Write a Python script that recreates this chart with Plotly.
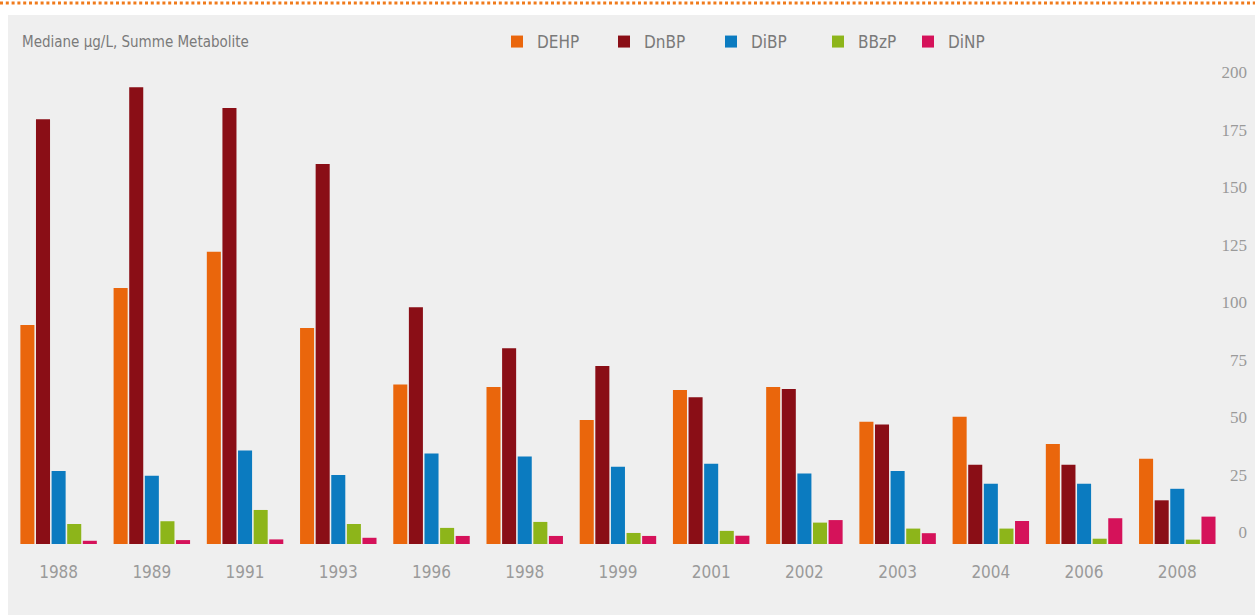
import plotly.graph_objects as go

years = ["1988", "1989", "1991", "1993", "1996", "1998", "1999",
         "2001", "2002", "2003", "2004", "2006", "2008"]

dehp = [95.2, 111.3, 127.1, 93.9, 69.4, 68.3, 53.9, 67.0, 68.3, 53.2, 55.3, 43.5, 37.1]
dnbp = [184.7, 198.6, 189.6, 165.2, 102.9, 85.1, 77.4, 63.8, 67.4, 52.0, 34.5, 34.5, 19.0]
dibp = [31.7, 29.7, 40.6, 30.0, 39.3, 38.0, 33.6, 34.9, 30.7, 31.7, 26.2, 26.2, 24.0]
bbzp = [8.7, 9.9, 14.8, 8.7, 7.0, 9.6, 4.8, 5.7, 9.3, 6.7, 6.7, 2.3, 1.9]
dinp = [1.4, 1.7, 2.0, 2.7, 3.5, 3.5, 3.5, 3.6, 10.4, 4.7, 10.0, 11.2, 11.9]

series_names = ["DEHP", "DnBP", "DiBP", "BBzP", "DiNP"]
series_values = [dehp, dnbp, dibp, bbzp, dinp]
series_colors = ["#ea660c", "#8a0e16", "#0b7bc0", "#8db51a", "#d5125a"]
series_legend = ["legend", "legend", "legend", "legend", "legend2"]

y_ticks = [0, 25, 50, 75, 100, 125, 150, 175, 200]

W, H = 1255, 615
ML, MR, MT, MB = 12, 5, 20, 71
PW, PH = W - ML - MR, H - MT - MB
PX_PER_UNIT = 2.3
Y_TOP = PH / PX_PER_UNIT
SANS = "Liberation Sans Narrow, DejaVu Sans Condensed, Roboto, sans-serif"
SERIF = "Liberation Serif, DejaVu Serif, serif"


def px(xp):
    return (xp - ML) / PW


def py(yp):
    return 1 - (yp - MT) / PH


fig = go.Figure()
for name, vals, col, lg in zip(series_names, series_values, series_colors, series_legend):
    fig.add_trace(go.Bar(
        x=years, y=vals, name=name, legend=lg,
        marker=dict(color=col, line=dict(width=0)),
    ))

legend_common = dict(
    orientation="h", xanchor="left", xref="paper",
    y=py(42), yanchor="middle", yref="paper",
    entrywidth=62, entrywidthmode="pixels",
    font=dict(family=SANS, size=17, color="#7a7a7a"),
    bgcolor="rgba(0,0,0,0)", traceorder="normal",
)

fig.update_layout(
    width=W, height=H, autosize=False,
    barmode="group", bargap=0.163, bargroupgap=0.1,
    paper_bgcolor="white", plot_bgcolor="rgba(0,0,0,0)",
    margin=dict(l=ML, r=MR, t=MT, b=MB, pad=0),
    showlegend=True,
    legend=dict(x=px(497), **legend_common),
    legend2=dict(x=px(908), **legend_common),
    xaxis=dict(
        type="category", range=[-0.5, 12.78],
        showgrid=False, zeroline=False, showline=False,
        ticks="", ticklabelstandoff=16, automargin=False,
        tickfont=dict(family=SANS, size=17, color="#9a9a9a"),
    ),
    yaxis=dict(
        side="right", range=[0, Y_TOP], automargin=False,
        tickvals=y_ticks, ticktext=[str(v) for v in y_ticks],
        ticklabelposition="inside top",
        showgrid=False, zeroline=False, showline=False, ticks="",
        tickfont=dict(family=SERIF, size=17, color="#9a9a9a"),
    ),
    shapes=[
        dict(type="rect", xref="paper", yref="paper",
             x0=px(8), x1=px(W + 5),
             y0=py(H + 5), y1=py(15),
             fillcolor="#efefef", line=dict(width=0), layer="below"),
        dict(type="line", xref="paper", yref="paper",
             x0=px(0), x1=px(W),
             y0=py(3), y1=py(3),
             line=dict(color="#f07b1c", width=3, dash="3px,2.8px")),
    ],
    annotations=[
        dict(text="Mediane µg/L, Summe Metabolite", xref="paper", yref="paper",
             x=px(20), y=py(42),
             xanchor="left", yanchor="middle", showarrow=False,
             font=dict(family=SANS, size=15, color="#7a7a7a")),
    ],
)

fig.write_html("out.html", config={"responsive": False, "displayModeBar": False})
